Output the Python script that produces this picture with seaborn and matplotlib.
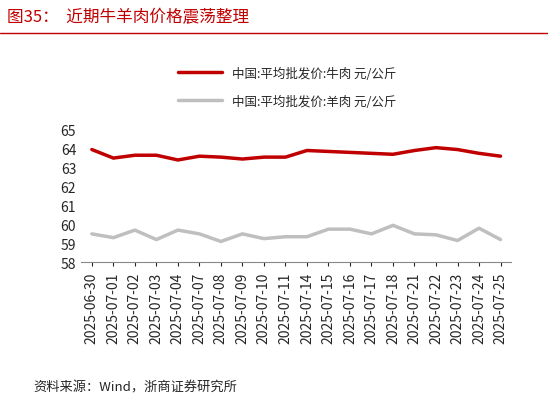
import matplotlib
matplotlib.use("Agg")
import matplotlib.pyplot as plt
import seaborn as sns
import pandas as pd

dates = ["2025-06-30","2025-07-01","2025-07-02","2025-07-03","2025-07-04","2025-07-07","2025-07-08",
         "2025-07-09","2025-07-10","2025-07-11","2025-07-14","2025-07-15","2025-07-16","2025-07-17",
         "2025-07-18","2025-07-21","2025-07-22","2025-07-23","2025-07-24","2025-07-25"]
beef = [63.95,63.5,63.65,63.65,63.4,63.6,63.55,63.45,63.55,63.55,63.9,63.85,63.8,63.75,63.7,63.9,64.05,63.95,63.75,63.6]
mutton = [59.5,59.3,59.7,59.2,59.7,59.5,59.1,59.5,59.25,59.35,59.35,59.75,59.75,59.5,59.95,59.5,59.45,59.15,59.8,59.2]
names = ["中国:平均批发价:牛肉 元/公斤", "中国:平均批发价:羊肉 元/公斤"]

sns.set_style("white")
plt.rcParams['font.family'] = ['Noto Sans CJK SC', 'DejaVu Sans']

df = pd.DataFrame({"date": dates * 2, "v": beef + mutton, "s": [names[0]]*20 + [names[1]]*20})

fig = plt.figure(figsize=(5.48, 4.02), dpi=100)
ax = fig.add_axes([0.148, 0.345, 0.785, 0.33])
sns.lineplot(data=df, x="date", y="v", hue="s", palette=["#C00000", "#BFBFBF"], linewidth=2.5, ax=ax, sort=False)
ax.set_ylim(58, 65)
ax.set_yticks(range(58, 66))
ax.set_xlim(-0.5, 19.5)
ax.set_xlabel(""); ax.set_ylabel("")
ax.tick_params(axis='x', rotation=90, labelsize=10, length=3, bottom=True)
ax.tick_params(axis='y', labelsize=10, length=0)
for s in ["top", "right", "left"]:
    ax.spines[s].set_visible(False)
ax.spines["bottom"].set_color("#888888")
ax.legend(loc="lower left", bbox_to_anchor=(0.2, 1.08), frameon=False, fontsize=9, handlelength=3.5, labelspacing=1.2)

fig.text(0.012, 0.955, "图35：  近期牛羊肉价格震荡整理", color="#C00000", fontsize=12, va="center")
fig.add_artist(plt.Line2D([0.0, 1.0], [0.915, 0.915], color="#C00000", lw=1))
fig.text(0.06, 0.035, "资料来源：Wind，浙商证券研究所", fontsize=9.5, va="center")
fig.savefig("out.png", dpi=100)
